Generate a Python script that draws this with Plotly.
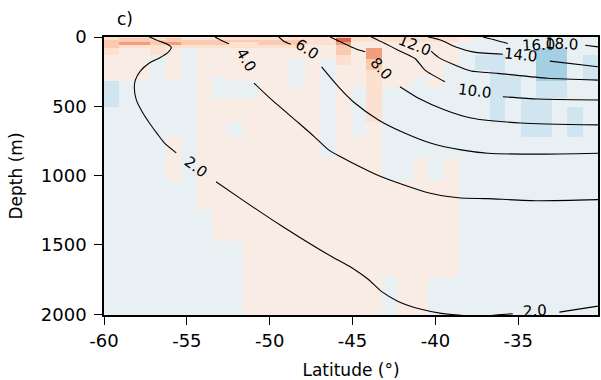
import plotly.graph_objects as go

# ---------------------------------------------------------------------------
# Grid of the anomaly field (cell edges)
# ---------------------------------------------------------------------------
LAT_EDGES = [-60.00, -59.07, -58.14, -57.20, -56.27, -55.34, -54.41, -53.48,
             -52.55, -51.61, -50.68, -49.75, -48.82, -47.89, -46.96, -46.02,
             -45.09, -44.16, -43.23, -42.30, -41.37, -40.43, -39.50, -38.57,
             -37.64, -36.71, -35.78, -34.84, -33.91, -32.98, -32.05, -31.12,
             -30.19]
DEPTH_EDGES = [0, 10, 20, 35, 55, 80, 130, 160, 200, 240, 280, 320, 360, 440,
               505, 560, 615, 720, 805, 870, 1040, 1245, 1470, 1730, 2010]

# anomaly levels used in the field
LB, MB, DB = -0.08, -0.20, -0.34
LP, LS, SA, OR, RD = 0.08, 0.16, 0.26, 0.42, 0.58

ANOMALY = [
    # 0-10 m
    [LS, LS, LS, LS, LS, LB, LP, LS, LS, LS, LS, LS, LS, LS, LS, SA, LS, LS, LS, LS, LS, LS, LS, LP, LB, LB, LB, LB, LB, LB, LB, LB],
    # 10-20 m
    [LS, SA, SA, LS, SA, LS, LS, LS, LS, LS, LS, LS, LS, LS, LS, RD, LS, LS, LS, LS, LS, LS, LS, LP, LB, LB, LB, LB, LB, LB, LB, LB],
    # 20-35 m
    [SA, SA, SA, SA, SA, SA, SA, SA, SA, SA, SA, SA, SA, LS, LS, RD, LS, LS, LS, LS, LS, LS, LS, LP, LB, LB, LB, LB, LB, LB, LB, LB],
    # 35-55 m
    [SA, OR, OR, SA, OR, SA, SA, SA, LS, LS, SA, SA, SA, LS, LS, OR, LP, LP, LP, LP, LP, LP, LP, LB, LB, LB, LB, LB, LB, LB, LB, LB],
    # 55-80 m
    [SA, LS, LS, LS, LS, LS, LS, LS, LS, LS, LS, LS, LS, LP, LP, SA, LP, LP, LP, LP, LP, LP, LP, LB, LB, LB, LB, LB, LB, LB, LB, LB],
    # 80-130 m
    [LS, LP, LP, LS, LP, LB, LP, LP, LP, LP, LP, LP, LP, LP, LP, SA, LP, OR, LP, LP, LP, LP, LP, LB, LB, LB, LB, LB, DB, DB, LB, LB],
    # 130-160 m
    [LP, LP, LP, LB, LP, LB, LP, LP, LP, LP, LP, LP, LP, LP, LP, LS, LP, OR, LP, LP, LP, LP, LP, LB, MB, MB, LB, LB, DB, DB, LB, MB],
    # 160-200 m
    [LP, LP, LP, LB, LP, LB, LP, LP, LP, LP, LP, LP, LB, LP, LB, LS, LP, SA, LP, LP, LP, LP, LP, LB, MB, MB, LB, LB, DB, DB, LB, MB],
    # 200-240 m
    [LP, LP, LP, LB, LP, LB, LP, LP, LP, LP, LP, LP, LB, LP, LB, LP, LP, SA, LP, LP, LP, LP, LB, LB, MB, MB, LB, LB, DB, DB, LB, MB],
    # 240-280 m
    [LP, LP, LP, LB, LP, LB, LP, LP, LP, LP, LP, LP, LB, LP, LB, LP, LP, LS, LP, LP, LP, LP, LB, LB, LB, MB, LB, LB, DB, DB, LB, MB],
    # 280-320 m
    [LP, LP, LP, LB, LP, LB, LP, LB, LP, LP, LP, LP, LB, LP, LB, LP, LP, LS, LP, LP, LB, LP, LB, LB, LB, MB, MB, LB, DB, DB, LB, MB],
    # 320-360 m
    [MB, LB, LB, LB, LB, LB, LP, LB, LB, LB, LP, LP, LB, LP, LB, LP, LP, LS, LP, LP, LB, LP, LB, LB, LB, MB, MB, LB, MB, MB, LB, LB],
    # 360-440 m
    [MB, LB, LB, LB, LB, LB, LP, LB, LB, LB, LP, LP, LP, LP, LB, LP, LB, LS, LB, LB, LB, LB, LB, LB, LB, MB, MB, LB, MB, MB, LB, LB],
    # 440-505 m
    [MB, LB, LB, LB, LB, LB, LP, LP, LP, LP, LP, LP, LP, LP, LB, LP, LB, LS, LB, LB, LB, LB, LB, LB, LB, MB, LB, MB, MB, LB, LB, LB],
    # 505-560 m
    [LB, LB, LB, LB, LB, LB, LP, LP, LP, LP, LP, LP, LP, LP, LB, LP, LB, LS, LB, LB, LB, LB, LB, LB, LB, MB, LB, MB, MB, LB, MB, LB],
    # 560-615 m
    [LB, LB, LB, LB, LB, LB, LP, LP, LP, LP, LP, LP, LP, LP, LB, LP, LB, LS, LB, LB, LB, LB, LB, LB, LB, MB, LB, MB, MB, LB, MB, LB],
    # 615-720 m
    [LB, LB, LB, LB, LB, LB, LP, LP, LB, LP, LP, LP, LP, LP, LB, LP, LB, LP, LB, LB, LB, LB, LB, LB, LB, LB, LB, MB, MB, LB, MB, LB],
    # 720-805 m
    [LB, LB, LB, LB, LP, LB, LP, LP, LP, LP, LP, LP, LP, LP, LB, LP, LP, LP, LB, LB, LB, LB, LB, LB, LB, LB, LB, LB, LB, LB, LB, LB],
    # 805-870 m
    [LB, LB, LB, LB, LP, LB, LP, LP, LP, LP, LP, LP, LP, LP, LB, LP, LP, LP, LB, LB, LB, LB, LB, LB, LB, LB, LB, LB, LB, LB, LB, LB],
    # 870-1040 m
    [LB, LB, LB, LB, LP, LB, LP, LP, LP, LP, LP, LP, LP, LP, LP, LP, LP, LP, LB, LB, LP, LB, LP, LB, LB, LB, LB, LB, LB, LB, LB, LB],
    # 1040-1245 m
    [LB, LB, LB, LB, LB, LB, LP, LP, LP, LP, LP, LP, LP, LP, LP, LP, LP, LP, LP, LP, LP, LP, LP, LB, LB, LB, LB, LB, LB, LB, LB, LB],
    # 1245-1470 m
    [LB, LB, LB, LB, LB, LB, LB, LP, LP, LP, LP, LP, LP, LP, LP, LP, LP, LP, LP, LP, LP, LP, LP, LB, LB, LB, LB, LB, LB, LB, LB, LB],
    # 1470-1730 m
    [LB, LB, LB, LB, LB, LB, LB, LB, LB, LP, LP, LP, LP, LP, LP, LP, LP, LP, LP, LP, LP, LP, LP, LB, LB, LB, LB, LB, LB, LB, LB, LB],
    # 1730-2010 m
    [LB, LB, LB, LB, LB, LB, LB, LB, LB, LP, LP, LP, LP, LP, LP, LP, LP, LP, LB, LP, LP, LB, LB, LB, LB, LB, LB, LB, LB, LB, LB, LB],
]

# ---------------------------------------------------------------------------
# Isotherms (latitude, depth) - each broken where its label sits
# ---------------------------------------------------------------------------
ISO_2_A_LAT = [-57.26, -56.66, -56.18, -55.94, -56.12, -56.66, -57.26, -57.81,
               -58.11, -58.17, -58.05, -57.69, -57.26, -56.78, -56.36, -55.64]
ISO_2_A_DEP = [0, 30, 52, 73, 109, 152, 188, 246, 311, 368, 454, 541, 620, 699, 764, 836]
ISO_2_B_LAT = [-53.24, -51.67, -49.87, -48.25, -46.27, -45.07, -44.04, -43.26,
               -42.25, -40.86, -39.65, -38.45, -37.13, -36.23, -35.33]
ISO_2_B_DEP = [1044, 1173, 1317, 1440, 1583, 1662, 1749, 1835, 1907, 1964, 1993,
               2007, 2014, 2004, 1996]
ISO_2_C_LAT = [-32.52, -30.19]
ISO_2_C_DEP = [1984, 1941]

ISO_4_A_LAT = [-53.30, -52.94, -52.46]
ISO_4_A_DEP = [0, 23, 48]
ISO_4_B_LAT = [-50.95, -49.87, -48.25, -47.30, -46.45, -45.12, -43.26, -40.44,
               -38.63, -36.83, -33.84, -30.19]
ISO_4_B_DEP = [332, 454, 620, 720, 814, 901, 1008, 1123, 1159, 1166, 1181, 1173]

ISO_6_A_LAT = [-49.45, -49.15, -48.73]
ISO_6_A_DEP = [0, 30, 52]
ISO_6_B_LAT = [-46.87, -45.85, -44.85, -43.44, -41.83, -40.26, -38.45, -36.83,
               -33.84, -30.19]
ISO_6_B_DEP = [215, 359, 478, 598, 694, 766, 814, 838, 845, 838]

ISO_8_A_LAT = [-46.35, -45.55, -44.83, -44.24]
ISO_8_A_DEP = [0, 45, 84, 107]
ISO_8_B_LAT = [-42.14, -41.05, -39.43, -37.85, -34.85, -30.19]
ISO_8_B_DEP = [359, 440, 526, 584, 620, 634]

ISO_10_A_LAT = [-43.86, -43.04, -42.25, -41.23, -40.63, -39.43]
ISO_10_A_DEP = [0, 47, 95, 155, 239, 323]
ISO_10_B_LAT = [-35.93, -33.84, -30.19]
ISO_10_B_DEP = [431, 447, 454]

ISO_12_B_LAT = [-40.26, -39.84, -38.87, -37.85, -36.23, -33.22, -30.19]
ISO_12_B_DEP = [102, 145, 200, 245, 262, 298, 311]

ISO_14_A_LAT = [-40.44, -39.65, -38.81, -37.67, -35.93]
ISO_14_A_DEP = [0, 23, 70, 109, 124]
ISO_14_B_LAT = [-33.10, -30.19]
ISO_14_B_DEP = [174, 215]

ISO_16_A_LAT = [-37.13, -36.35, -35.63]
ISO_16_A_DEP = [0, 23, 47]

ISO_18_B_LAT = [-30.96, -30.19]
ISO_18_B_DEP = [59, 71]

ISO_SEGMENTS = [
    (ISO_2_A_LAT, ISO_2_A_DEP), (ISO_2_B_LAT, ISO_2_B_DEP), (ISO_2_C_LAT, ISO_2_C_DEP),
    (ISO_4_A_LAT, ISO_4_A_DEP), (ISO_4_B_LAT, ISO_4_B_DEP),
    (ISO_6_A_LAT, ISO_6_A_DEP), (ISO_6_B_LAT, ISO_6_B_DEP),
    (ISO_8_A_LAT, ISO_8_A_DEP), (ISO_8_B_LAT, ISO_8_B_DEP),
    (ISO_10_A_LAT, ISO_10_A_DEP), (ISO_10_B_LAT, ISO_10_B_DEP),
    (ISO_12_B_LAT, ISO_12_B_DEP),
    (ISO_14_A_LAT, ISO_14_A_DEP), (ISO_14_B_LAT, ISO_14_B_DEP),
    (ISO_16_A_LAT, ISO_16_A_DEP),
    (ISO_18_B_LAT, ISO_18_B_DEP),
]

# contour labels: text, latitude, depth, rotation (deg, clockwise)
LABEL_TEXT = ["2.0", "2.0", "4.0", "6.0", "8.0", "10.0", "12.0", "14.0", "18.0", "16.0"]
LABEL_LAT = [-54.45, -34.00, -51.43, -47.77, -43.26, -37.67, -41.29, -34.84, -32.38, -33.76]
LABEL_DEP = [937, 1975, 167, 88, 232, 390, 59, 131, 52, 59]
LABEL_ROT = [37, -3, 60, 34, 48, 7, 22, 6, 3, -3]

X_TICKS = [-60, -55, -50, -45, -40, -35]
X_TICK_TEXT = ["-60", "-55", "-50", "-45", "-40", "-35"]
Y_TICKS = [0, 500, 1000, 1500, 2000]
Y_TICK_TEXT = ["0", "500", "1000", "1500", "2000"]

# matplotlib RdBu_r
RDBU_R = [
    [0.0, "#053061"], [0.1, "#2166ac"], [0.2, "#4393c3"], [0.3, "#92c5de"],
    [0.4, "#d1e5f0"], [0.5, "#f7f7f7"], [0.6, "#fddbc7"], [0.7, "#f4a582"],
    [0.8, "#d6604d"], [0.9, "#b2182b"], [1.0, "#67001f"],
]

FONT = "DejaVu Sans"

fig = go.Figure()
fig.add_trace(go.Heatmap(
    x=LAT_EDGES, y=DEPTH_EDGES, z=ANOMALY,
    colorscale=RDBU_R, zmin=-1, zmax=1,
    showscale=False, hoverinfo="skip",
))

for lat, dep in ISO_SEGMENTS:
    fig.add_trace(go.Scatter(
        x=lat, y=dep, mode="lines",
        line=dict(color="black", width=1.1, shape="spline", smoothing=0.6),
        showlegend=False, hoverinfo="skip",
    ))

for txt, la, de, rot in zip(LABEL_TEXT, LABEL_LAT, LABEL_DEP, LABEL_ROT):
    fig.add_annotation(
        x=la, y=de, xref="x", yref="y", text=txt, showarrow=False,
        textangle=rot, font=dict(family=FONT, size=15, color="black"),
    )

fig.add_annotation(
    text="c)", xref="paper", yref="paper", x=0.022, y=1.0,
    xanchor="left", yanchor="bottom", yshift=6, showarrow=False,
    font=dict(family=FONT, size=17, color="black"),
)

axis_common = dict(
    ticks="outside", ticklen=8, tickwidth=1.3, tickcolor="black",
    showline=True, linecolor="black", linewidth=1.6, mirror=True,
    showgrid=False, zeroline=False,
    tickfont=dict(family=FONT, size=18, color="black"),
)

fig.update_layout(
    width=601, height=380,
    margin=dict(l=104, r=1, t=37, b=64),
    paper_bgcolor="white", plot_bgcolor="white",
    xaxis=dict(range=[-60, -30.19], tickmode="array", tickvals=X_TICKS,
               ticktext=X_TICK_TEXT, ticklabelstandoff=1,
               title=dict(text="Latitude (°)", standoff=16,
                          font=dict(family=FONT, size=17, color="black")),
               **axis_common),
    yaxis=dict(range=[2005, 0], tickmode="array", tickvals=Y_TICKS,
               ticktext=Y_TICK_TEXT, ticklabelstandoff=4,
               title=dict(text="Depth (m)", standoff=14,
                          font=dict(family=FONT, size=17, color="black")),
               **axis_common),
)

fig.write_html("out.html")
